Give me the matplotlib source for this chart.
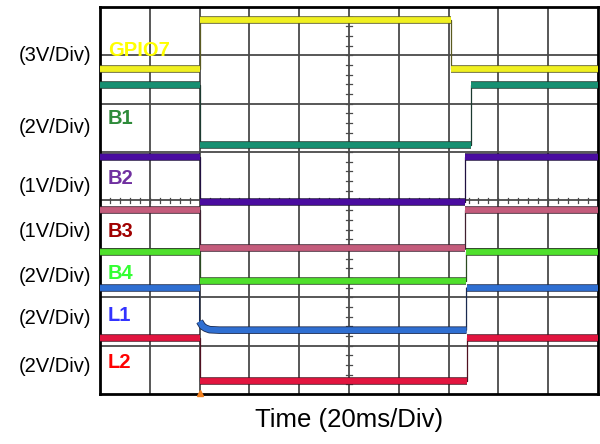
import numpy as np
import matplotlib.pyplot as plt
import matplotlib.patheffects as pe

plt.rcParams['font.family'] = ['Liberation Sans', 'DejaVu Sans']

# time in divisions (20 ms/div), level in vertical divisions from bottom
names = ['GPIO7', 'B1', 'B2', 'B3', 'B4', 'L1', 'L2']
scales = ['(3V/Div)', '(2V/Div)', '(1V/Div)', '(1V/Div)', '(2V/Div)', '(2V/Div)', '(2V/Div)']

gpio7_t = [0, 2.0, 2.0, 7.05, 7.05, 10]
gpio7_v = [6.71, 6.71, 7.73, 7.73, 6.71, 6.71]
b1_t = [0, 2.0, 2.0, 7.45, 7.45, 10]
b1_v = [6.38, 6.38, 5.14, 5.14, 6.38, 6.38]
b2_t = [0, 2.0, 2.0, 7.32, 7.32, 10]
b2_v = [4.90, 4.90, 3.97, 3.97, 4.90, 4.90]
b3_t = [0, 2.0, 2.0, 7.32, 7.32, 10]
b3_v = [3.80, 3.80, 3.02, 3.02, 3.80, 3.80]
b4_t = [0, 2.0, 2.0, 7.34, 7.34, 10]
b4_v = [2.93, 2.93, 2.33, 2.33, 2.93, 2.93]
l1_t = [0, 2.0, 2.0, 2.06, 2.12, 2.2, 2.4, 7.36, 7.36, 10]
l1_v = [2.19, 2.19, 1.50, 1.40, 1.36, 1.33, 1.32, 1.32, 2.19, 2.19]
l2_t = [0, 2.0, 2.0, 7.36, 7.36, 10]
l2_v = [1.16, 1.16, 0.27, 0.27, 1.16, 1.16]

traces_t = [gpio7_t, b1_t, b2_t, b3_t, b4_t, l1_t, l2_t]
traces_v = [gpio7_v, b1_v, b2_v, b3_v, b4_v, l1_v, l2_v]

trace_colors = ['#f0f020', '#179072', '#4a0ca0', '#c45c7c', '#4fe02c', '#2f6fd2', '#e2153f']
edge_colors = ['#5a5a20', '#1c3a30', '#201040', '#402030', '#2a4a20', '#1a2a50', '#501020']
label_colors = ['#ffff00', '#2e8b3a', '#7030a0', '#a00000', '#33ff33', '#3333ff', '#ff0000']

label_y = [7.11, 5.70, 4.46, 3.35, 2.50, 1.63, 0.66]
scale_y = [7.0, 5.5, 4.28, 3.35, 2.42, 1.57, 0.56]

fig = plt.figure(figsize=(6, 4.44), dpi=100)
ax = fig.add_axes([100 / 600, 1 - 394 / 444, 498 / 600, 387 / 444])
ax.set_xlim(0, 10)
ax.set_ylim(0, 8)

# graticule
for x in range(1, 10):
    ax.axvline(x, color='#4a4a4a', lw=1.3, zorder=1)
for y in range(1, 8):
    ax.axhline(y, color='#4a4a4a', lw=1.3, zorder=1)
for x in np.arange(0.2, 10, 0.2):
    ax.plot([x, x], [3.94, 4.06], color='#4a4a4a', lw=0.9, zorder=1)
for y in np.arange(0.2, 8, 0.2):
    ax.plot([4.94, 5.06], [y, y], color='#4a4a4a', lw=0.9, zorder=1)

for t, v, c, ec in zip(traces_t, traces_v, trace_colors, edge_colors):
    ax.plot(t, v, color=ec, lw=0.9, zorder=2)
    seg_t, seg_v = [], []
    for i in range(len(t)):
        if i > 0 and t[i] == t[i - 1]:
            if len(seg_t) > 1:
                ax.plot(seg_t, seg_v, color=c, lw=4.2, zorder=3,
                        solid_capstyle='butt', solid_joinstyle='round',
                        path_effects=[pe.Stroke(linewidth=5.4, foreground=ec),
                                      pe.Normal()])
            seg_t, seg_v = [], []
        seg_t.append(t[i])
        seg_v.append(v[i])
    if len(seg_t) > 1:
        ax.plot(seg_t, seg_v, color=c, lw=4.2, zorder=3,
                solid_capstyle='butt', solid_joinstyle='round',
                path_effects=[pe.Stroke(linewidth=5.4, foreground=ec),
                              pe.Normal()])

for name, y, c in zip(names, label_y, label_colors):
    ax.text(0.16, y, name, color=c, fontsize=14.5, fontweight='bold',
            va='center', ha='left', zorder=5)

for s, y in zip(scales, scale_y):
    ax.text(-0.18, y, s, fontsize=14.5, va='center', ha='right', clip_on=False)

ax.plot([2.0], [0.02], marker='^', color='#f08020', ms=5, clip_on=False, zorder=6)

ax.set_xticks([])
ax.set_yticks([])
for sp in ax.spines.values():
    sp.set_linewidth(2)
    sp.set_color('black')

fig.text(349 / 600, 1 - 420 / 444, 'Time (20ms/Div)', fontsize=18.5,
         ha='center', va='center')

fig.savefig('out.png', dpi=100)
